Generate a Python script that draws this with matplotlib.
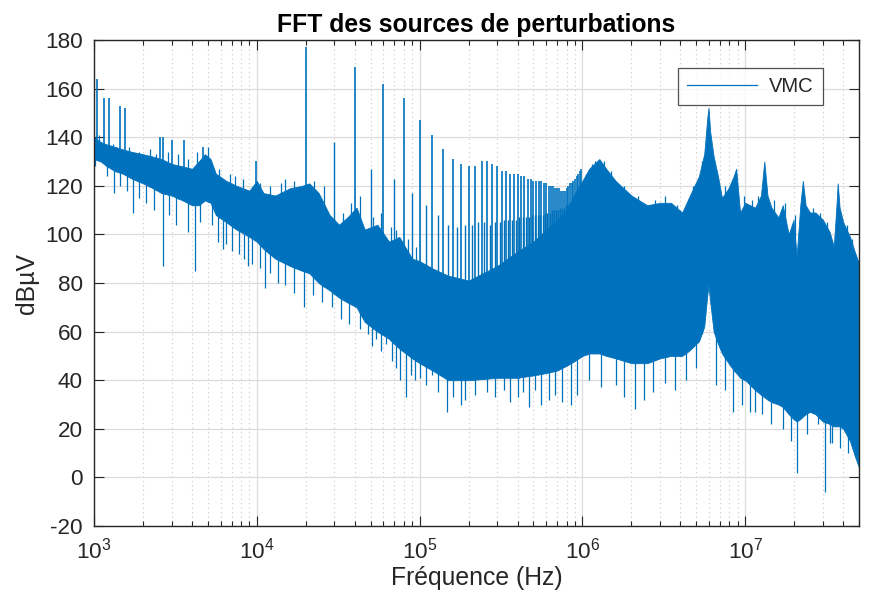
import numpy as np
import matplotlib
matplotlib.use('Agg')
import matplotlib.pyplot as plt
from matplotlib.lines import Line2D
from matplotlib.ticker import LogLocator, NullFormatter

# Enveloppe du spectre VMC : fréquence (Hz), haut et bas de la bande (dBµV)
band_f = [1.0e3, 1.1e3, 1.2e3, 1.35e3, 1.5e3, 1.7e3, 2.0e3, 2.3e3, 2.6e3, 3.0e3,
          3.5e3, 4.0e3, 4.4e3, 4.8e3, 5.2e3, 5.6e3, 6.5e3, 7.5e3, 9.0e3, 1.0e4,
          1.1e4, 1.3e4, 1.6e4, 1.9e4, 2.1e4, 2.4e4, 2.8e4, 3.2e4, 3.6e4, 4.1e4,
          4.6e4, 5.5e4, 6.5e4, 7.5e4, 9.0e4, 1.0e5, 1.2e5, 1.5e5, 2.0e5, 3.0e5,
          4.0e5, 5.0e5, 6.0e5, 7.0e5, 8.0e5, 9.0e5, 1.0e6, 1.1e6, 1.27e6, 1.4e6,
          1.6e6, 2.0e6, 2.5e6, 3.0e6, 3.5e6, 4.1e6, 4.5e6, 5.2e6, 5.6e6, 5.85e6,
          5.95e6, 6.1e6, 6.4e6, 6.8e6, 7.2e6, 7.9e6, 8.5e6, 8.8e6, 9.3e6, 1.0e7,
          1.15e7, 1.25e7, 1.31e7, 1.37e7, 1.45e7, 1.6e7, 1.7e7, 1.85e7, 1.98e7, 2.07e7,
          2.18e7, 2.26e7, 2.35e7, 2.5e7, 2.7e7, 3.0e7, 3.3e7, 3.5e7, 3.62e7, 3.7e7,
          3.8e7, 4.0e7, 4.4e7, 4.7e7, 5.0e7]
band_hi = [140, 138, 137, 136, 135, 134, 133, 132, 131, 129,
           128, 127, 130, 133, 131, 125, 122, 120, 118, 122,
           117, 116, 119, 120, 121, 117, 108, 104, 107, 111,
           102, 104, 97, 99, 90, 89, 86, 83, 81, 87,
           93, 97, 102, 106, 110, 117, 122, 127, 131, 127,
           122, 116, 112, 113, 113, 109, 115, 124, 133, 148,
           152, 142, 132, 124, 115, 119, 124, 127, 109, 113,
           111, 116, 130, 116, 111, 107, 112, 100, 106, 91,
           112, 122, 112, 109, 109, 106, 101, 95, 110, 121,
           111, 105, 99, 93, 88]
band_lo = [131, 130, 128, 126, 125, 123, 121, 119, 117, 116,
           114, 112, 112, 114, 113, 108, 105, 102, 99, 97,
           94, 90, 87, 85, 84, 80, 77, 74, 72, 70,
           64, 60, 57, 53, 49, 47, 44, 40, 40, 41,
           41, 42, 43, 44, 46, 48, 50, 51, 51, 50,
           49, 47, 47, 49, 50, 50, 52, 56, 62, 75,
           79, 72, 60, 55, 51, 47, 44, 43, 41, 40,
           36, 34, 33, 32, 31, 30, 29, 26, 24, 23,
           24, 25, 26, 27, 26, 23, 22, 21, 21, 21,
           21, 20, 15, 9, 4]

# Raies basse fréquence
lf_spike_f = [1.04e3, 1.15e3, 1.24e3, 1.45e3, 1.55e3, 2.55e3, 2.67e3, 3.0e3, 3.55e3, 4.67e3, 9.9e3]
lf_spike_db = [164, 156, 156, 153, 152, 140, 140, 139, 139, 136, 130]

# Petites raies qui dépassent du haut de la bande
small_spike_f = [1.08e3, 1.3e3, 1.65e3, 1.9e3, 2.2e3, 2.4e3, 2.85e3, 3.3e3, 3.8e3, 4.3e3,
                 5.0e3, 5.9e3, 6.8e3, 7.3e3, 8.2e3, 1.05e4, 1.2e4, 1.4e4, 1.5e4, 1.7e4,
                 2.25e4, 2.6e4, 3.4e4, 3.8e4, 4.3e4, 5.2e4, 5.8e4, 6.7e4, 7.2e4, 8.5e4,
                 9.5e4, 1.05e6, 1.15e6, 1.2e6, 1.35e6, 1.5e6, 1.8e6, 2.2e6, 2.8e6, 3.2e6,
                 3.8e6, 4.8e6, 5.4e6, 7.5e6, 9.8e6, 1.1e7, 1.2e7, 1.5e7, 1.75e7, 2.02e7,
                 2.6e7, 2.9e7, 3.2e7, 4.2e7, 4.5e7]
small_spike_db = [141, 137, 136, 134, 135, 133, 134, 133, 131, 134,
                  136, 127, 125, 124, 123, 121, 120, 121, 123, 122,
                  122, 120, 109, 113, 116, 107, 109, 103, 102, 98,
                  95, 125, 129, 130, 130, 126, 120, 116, 114, 116,
                  112, 120, 130, 120, 116, 114, 116, 114, 113, 108,
                  111, 109, 105, 104, 98]

# Peigne de découpage à 20 kHz : harmoniques paires et impaires (de 10 kHz)
f_decoupage = 20e3
comb_even_db = [177, 169, 162, 156, 147, 141, 135, 131, 129, 128,
                128, 130, 130, 129, 128, 126, 126, 125, 125, 125,
                124, 124, 123, 123, 122, 122, 122, 122, 121, 121,
                120, 120, 120, 119, 119, 119, 118, 118, 118, 119,
                120, 121, 121, 122, 123, 124, 125, 126, 127]
comb_odd_db = [138, 127, 123, 117, 112, 108, 104, 103, 104, 104,
               105, 105, 104, 105, 105, 106, 106, 106, 106,
               107, 107, 107, 107, 108, 108, 108, 108, 108, 109,
               109, 109, 110, 110, 110, 110, 111, 111, 111, 112,
               112, 113, 113, 114, 115, 116, 117, 118, 119, 120]

# Creux vers le bas
dip_f = [1.33e3, 1.74e3, 2.66e3, 4.2e3, 6.2e3, 8.8e3, 1.13e4,
         1.94e4, 2.9e4, 4.8e4, 5.4e4, 6.2e4, 7.6e4, 8.2e4,
         1.0e5, 1.2e5, 1.47e5, 1.8e5, 2.6e5, 4.0e5, 4.7e5,
         5.6e5, 8.5e5, 1.3e6, 2.1e6, 2.4e6, 6.6e6, 8.4e6,
         1.07e7, 1.27e7, 2.07e7, 2.8e7, 3.07e7, 3.4e7,
         1.02e3, 1.2e3, 1.45e3, 1.6e3, 1.9e3, 2.1e3, 2.35e3, 2.9e3, 3.2e3, 3.8e3,
         4.5e3, 5.3e3, 5.8e3, 6.5e3, 7.0e3, 7.8e3, 8.4e3, 9.3e3, 1.05e4, 1.2e4,
         1.35e4, 1.5e4, 1.7e4, 2.2e4, 2.5e4, 3.3e4, 3.7e4, 4.3e4, 5.1e4, 5.8e4,
         6.8e4, 7.2e4, 8.8e4, 9.4e4, 1.1e5, 1.3e5, 1.6e5, 1.9e5, 2.2e5, 2.9e5,
         3.3e5, 3.6e5, 4.3e5, 5.1e5, 6.2e5, 6.8e5, 7.5e5, 9.3e5, 1.1e6, 1.6e6,
         1.8e6, 2.7e6, 3.2e6, 3.7e6, 4.3e6, 5.0e6, 7.5e6, 9.5e6, 1.15e7, 1.45e7,
         1.7e7, 1.9e7, 2.4e7, 3.3e7, 3.8e7, 4.3e7]
dip_db = [117, 109, 87, 85, 94, 87, 78,
          70, 70, 59, 57, 55, 40, 33,
          41, 42, 27, 30, 35, 33, 29,
          30, 30, 37, 28, 32, 38, 27,
          27, 26, 2, 22, -6, 14,
          128, 124, 120, 118, 115, 113, 110, 108, 104, 101,
          105, 104, 97, 96, 93, 92, 90, 88, 86, 84,
          80, 79, 76, 75, 72, 65, 63, 61, 54, 52,
          48, 45, 42, 40, 38, 35, 33, 32, 34, 33,
          36, 31, 35, 36, 32, 34, 31, 34, 40, 38,
          33, 35, 39, 36, 40, 45, 36, 30, 27, 22,
          20, 15, 18, 14, 12, 10]

BLEU = '#0072BD'
GRIS = '#262626'

plt.rcParams['font.family'] = ['Liberation Sans', 'DejaVu Sans']
plt.rcParams['mathtext.fontset'] = 'custom'
plt.rcParams['mathtext.rm'] = 'Liberation Sans'
plt.rcParams['axes.unicode_minus'] = False


def niveau(courbe, f):
    """Niveau de l'enveloppe (interpolé en log f) au pied d'une raie."""
    return np.interp(np.log10(f), np.log10(band_f), courbe)


fig = plt.figure(figsize=(8.69, 5.92), dpi=100)
ax = fig.add_axes([94 / 869, 1 - 526 / 592, 765 / 869, 486 / 592])

ax.fill_between(band_f, band_lo, band_hi, color=BLEU, lw=0.6, zorder=2)

even_f = f_decoupage * np.arange(1, len(comb_even_db) + 1)
odd_f = f_decoupage * (np.arange(1, len(comb_odd_db) + 1) + 0.5)
raies = [(lf_spike_f, lf_spike_db, 1.2), (even_f, comb_even_db, 1.2),
         (odd_f, comb_odd_db, 1.0), (small_spike_f, small_spike_db, 0.9)]
for f, db, lw in raies:
    f = np.asarray(f)
    ax.vlines(f, niveau(band_lo, f), db, color=BLEU, lw=lw, zorder=2)
dip_f = np.asarray(dip_f)
ax.vlines(dip_f, dip_db, niveau(band_hi, dip_f) - 2, color=BLEU, lw=0.9, zorder=2)

ax.set_xscale('log')
ax.set_xlim(1e3, 5e7)
ax.set_ylim(-20, 180)
ax.set_yticks(np.arange(-20, 181, 20))
ax.xaxis.set_major_locator(LogLocator(base=10, numticks=10))
ax.xaxis.set_minor_locator(LogLocator(base=10, subs=np.arange(2, 10), numticks=100))
ax.xaxis.set_minor_formatter(NullFormatter())

ax.grid(True, which='major', color='#dcdcdc', lw=0.9, zorder=0)
ax.grid(True, which='minor', axis='x', color='#c8c8c8', lw=0.8, ls=(0, (1, 3)), zorder=0)
ax.set_axisbelow(True)

ax.tick_params(which='both', direction='in', top=True, right=True, colors=GRIS,
               labelsize=16.2, width=0.8)
ax.tick_params(which='major', length=7, pad=8)
ax.tick_params(which='minor', length=3.5)
for s in ax.spines.values():
    s.set_color(GRIS)
    s.set_linewidth(1.0)

ax.set_title('FFT des sources de perturbations', fontsize=17.8, fontweight='bold', pad=6)
ax.set_xlabel('Fréquence (Hz)', fontsize=17.8, color=GRIS, labelpad=2)
ax.set_ylabel('dBµV', fontsize=17.8, color=GRIS, labelpad=4)

leg = ax.legend([Line2D([], [], color=BLEU, lw=0.9)], ['VMC'],
                loc='upper right', bbox_to_anchor=(0.966, 0.963),
                fontsize=14.5, handlelength=3.5, frameon=True, fancybox=False,
                borderpad=0.45, handletextpad=0.6)
leg.get_frame().set_edgecolor(GRIS)
leg.get_frame().set_linewidth(0.9)
for t in leg.get_texts():
    t.set_color(GRIS)

fig.savefig('out.png', dpi=100, facecolor='white')
